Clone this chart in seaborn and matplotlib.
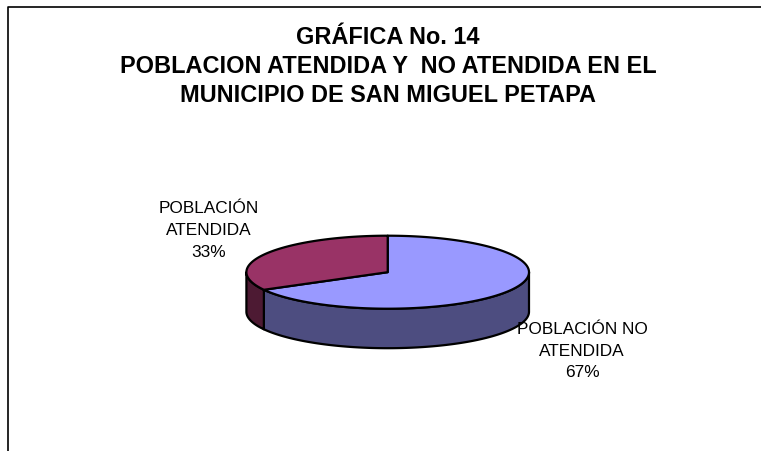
import numpy as np
import matplotlib
matplotlib.use("Agg")
import matplotlib.pyplot as plt
import seaborn as sns

categories = ["POBLACIÓN NO\nATENDIDA", "POBLACIÓN\nATENDIDA"]
values = [67, 33]
title_lines = ["GRÁFICA No. 14", "POBLACION ATENDIDA Y  NO ATENDIDA EN EL", "MUNICIPIO DE SAN MIGUEL PETAPA"]

sns.set_theme(style="white")
plt.rcParams["font.family"] = ["Liberation Sans", "DejaVu Sans"]

top_colors = sns.color_palette(["#9999FF", "#993366"])
side_colors = sns.color_palette(["#4D4D80", "#4D1A33"])

W, H = 761, 451
fig = plt.figure(figsize=(W / 100, H / 100), dpi=100)
ax = fig.add_axes([0, 0, 1, 1])
ax.set_xlim(0, W)
ax.set_ylim(H, 0)
ax.axis("off")

cx, cy, a, b, depth = 387.7, 272.2, 141.3, 36.5, 39.5
lw = 1.6


def pt(theta):
    return cx + a * np.sin(theta), cy - b * np.cos(theta)


frac = np.cumsum([0] + values) / sum(values) * 2 * np.pi

for i in range(len(values)):
    lo = max(frac[i], np.pi / 2)
    hi = min(frac[i + 1], 3 * np.pi / 2)
    if hi > lo:
        t = np.linspace(lo, hi, 200)
        x, y = pt(t)
        ax.fill(np.r_[x, x[::-1]], np.r_[y, y[::-1] + depth],
                facecolor=side_colors[i], edgecolor="black", lw=lw, joinstyle="round", zorder=2)

for i in range(len(values)):
    t = np.linspace(frac[i], frac[i + 1], 300)
    x, y = pt(t)
    ax.fill(np.r_[cx, x], np.r_[cy, y], facecolor=top_colors[i],
            edgecolor="black", lw=lw, joinstyle="round", zorder=3)

ax.plot([7.5, 7.5, W], [H, 6.5, 6.5], color="black", lw=1.2, zorder=1, solid_capstyle="butt")

for line, y in zip(title_lines, [44, 73, 102]):
    ax.text(388, y, line, ha="center", va="baseline", fontsize=16.9,
            fontweight="bold", color="black")

pct = [f"{round(v / sum(values) * 100)}%" for v in values]
ax.text(582, 351, f"{categories[0]}\n{pct[0]}", ha="center", va="center",
        fontsize=12.4, linespacing=1.55, color="black", zorder=5)
ax.text(209, 230.5, f"{categories[1]}\n{pct[1]}", ha="center", va="center",
        fontsize=12.4, linespacing=1.55, color="black", zorder=5)

fig.savefig("out.png", dpi=100, facecolor="white")
